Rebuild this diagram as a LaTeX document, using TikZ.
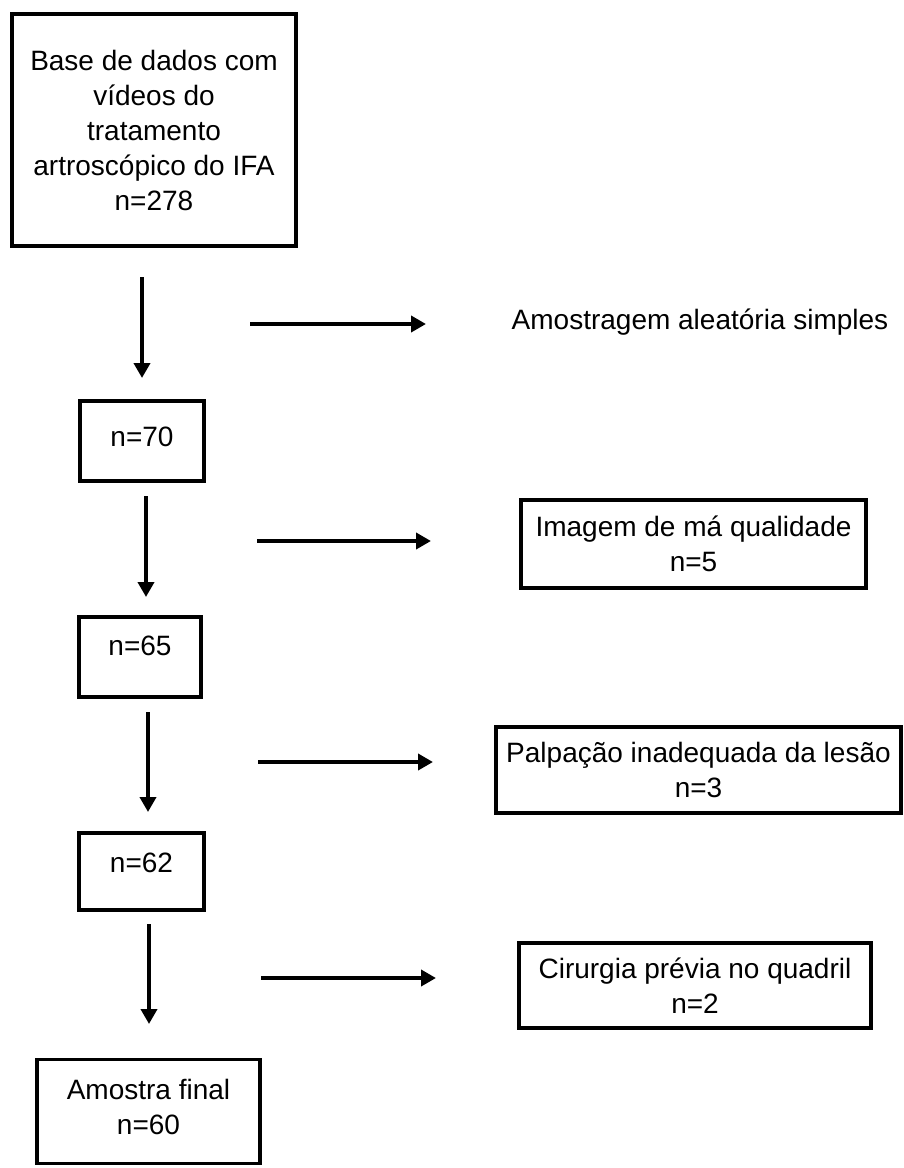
\documentclass[tikz,border=0pt]{standalone}
\usepackage{fontspec}
\setmainfont{Liberation Sans}
\usetikzlibrary{arrows.meta}

\tikzset{
  caixa/.style={draw, line width=3.5pt, align=center, inner sep=0pt},
  seta/.style={line width=3.8pt, -{Triangle[width=16pt,length=15pt]}},
}

\begin{document}
\begin{tikzpicture}[x=1pt, y=-1pt, font=\fontsize{28}{35}\selectfont]
        \useasboundingbox (0,0) rectangle (904,1168);

        % coluna principal
        \node[caixa, minimum width=284pt, minimum height=232pt] (base) at (154,130)
            {Base de dados com\\vídeos do\\tratamento\\artroscópico do IFA\\n=278};
        \node[caixa, minimum width=124pt, minimum height=80pt, text depth=8pt] (n70) at (142,441) {n=70};
        \node[caixa, minimum width=122pt, minimum height=80pt, text depth=22pt] (n65) at (140,657) {n=65};
        \node[caixa, minimum width=125pt, minimum height=77pt, text depth=17pt] (n62) at (141.5,871.5) {n=62};
        \node[caixa, minimum width=223pt, minimum height=104pt, text depth=10pt] (final) at (148.5,1111.5)
            {Amostra final\\n=60};

        % exclusoes
        \node (amost) at (700,322) {Amostragem aleatória simples};
        \node[caixa, minimum width=345pt, minimum height=88pt] (exc1) at (693.5,544) {Imagem de má qualidade\\n=5};
        \node[caixa, minimum width=405pt, minimum height=86pt] (exc2) at (698.5,770) {Palpação inadequada da lesão\\n=3};
        \node[caixa, minimum width=352pt, minimum height=85pt] (exc3) at (695,985.5) {Cirurgia prévia no quadril\\n=2};

        % pontas das setas
        \coordinate (v1a) at (142,277);  \coordinate (v1b) at (142,378);
        \coordinate (v2a) at (146,496);  \coordinate (v2b) at (146,597);
        \coordinate (v3a) at (148,712);  \coordinate (v3b) at (148,812);
        \coordinate (v4a) at (149,924);  \coordinate (v4b) at (149,1024);
        \coordinate (h1a) at (250,324);  \coordinate (h1b) at (426,324);
        \coordinate (h2a) at (257,541);  \coordinate (h2b) at (431,541);
        \coordinate (h3a) at (258,762);  \coordinate (h3b) at (433,762);
        \coordinate (h4a) at (261,978);  \coordinate (h4b) at (436,978);

        \draw[seta] (v1a) -- (v1b);
        \draw[seta] (v2a) -- (v2b);
        \draw[seta] (v3a) -- (v3b);
        \draw[seta] (v4a) -- (v4b);
        \draw[seta] (h1a) -- (h1b);
        \draw[seta] (h2a) -- (h2b);
        \draw[seta] (h3a) -- (h3b);
        \draw[seta] (h4a) -- (h4b);
    \end{tikzpicture}
\end{document}
